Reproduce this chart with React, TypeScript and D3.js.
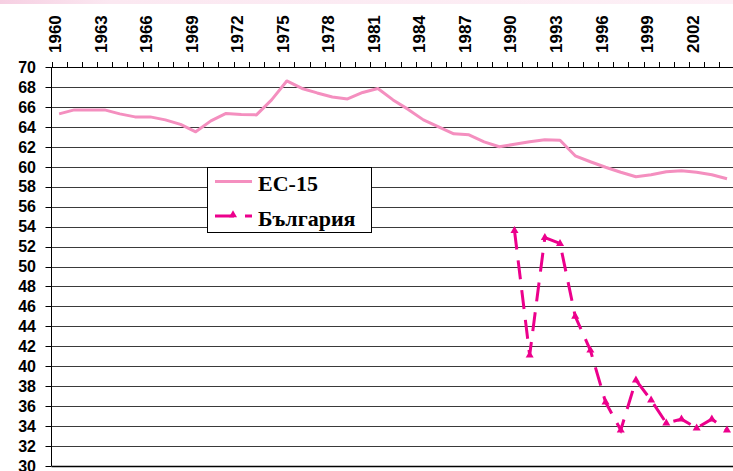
import React from 'react';
import * as d3 from 'd3';

// years shown on the category axis (top)
const years = d3.range(1960, 2006).map(String);
const yearLabels = ['1960', '1963', '1966', '1969', '1972', '1975', '1978', '1981', '1984', '1987', '1990', '1993', '1996', '1999', '2002'];
const yTicks = d3.range(30, 71, 2);

const ecYears = d3.range(1960, 2005).map(String);
const ecValues = [
    65.3, 65.7, 65.7, 65.7, 65.3, 65.0, 65.0, 64.7, 64.25, 63.5,
    64.6, 65.35, 65.25, 65.2, 66.7, 68.6, 67.85, 67.4, 67.0, 66.8,
    67.45, 67.85, 66.7, 65.75, 64.7, 64.0, 63.3, 63.2, 62.5, 62.0,
    62.25, 62.5, 62.7, 62.65, 61.1, 60.5, 59.95, 59.45, 59.0, 59.2,
    59.5, 59.6, 59.45, 59.2, 58.8
];

const bgYears = d3.range(1990, 2005).map(String);
const bgValues = [53.6, 41.1, 52.9, 52.3, 45.0, 41.6, 36.4, 33.6, 38.6, 36.6, 34.3, 34.7, 33.8, 34.7, 33.6];

const EC_COLOR = '#f48fbf';
const BG_COLOR = '#ec008c';

export default function App() {
    const width = 733, height = 471;
    const left = 51.5, top = 67, bottom = 466;
    const band = 15.18;

    const x = d3.scaleBand()
        .domain(years)
        .range([left, left + band * years.length])
        .padding(0);
    const cx = (yr: string) => (x(yr) as number) + x.bandwidth() / 2;

    const y = d3.scaleLinear().domain([30, 70]).range([bottom, top]);

    const ecData = ecYears.map((yr, i) => ({ yr, v: ecValues[i] }));
    const bgData = bgYears.map((yr, i) => ({ yr, v: bgValues[i] }));

    const line = d3.line<{ yr: string; v: number }>()
        .x(d => cx(d.yr))
        .y(d => y(d.v));

    const tri = d3.symbol().type(d3.symbolTriangle).size(28)();
    const right = left + band * years.length;

    return (
        <svg width={width} height={height} style={{ position: 'absolute', left: 0, top: 0, background: '#fff' }}
             fontFamily="'Liberation Sans', Arial, sans-serif">
            <defs>
                <linearGradient id="topband" x1="0" x2="1" y1="0" y2="0">
                    <stop offset="0" stopColor="#f6cfe2" />
                    <stop offset="0.15" stopColor="#fbe8f1" />
                    <stop offset="1" stopColor="#fdf0f6" />
                </linearGradient>
            </defs>
            <rect x={0} y={0} width={width} height={4} fill="url(#topband)" />

            {/* horizontal grid */}
            {yTicks.map(t => (
                <line key={'g' + t} x1={left} x2={right} y1={Math.round(y(t)) + 0.5} y2={Math.round(y(t)) + 0.5}
                      stroke={t === 30 || t === 70 ? '#000' : '#3a3a3a'} strokeWidth={t === 30 ? 1.5 : 1} />
            ))}
            {/* y axis */}
            <line x1={left} x2={left} y1={top} y2={bottom} stroke="#000" />
            {yTicks.map(t => (
                <g key={'y' + t}>
                    <line x1={left - 6} x2={left} y1={Math.round(y(t)) + 0.5} y2={Math.round(y(t)) + 0.5} stroke="#000" />
                    <text x={36} y={y(t)} dy="0.36em" textAnchor="end" fontSize={16} fontWeight="bold">{t}</text>
                </g>
            ))}
            {/* x axis on top */}
            {years.concat(['2006']).map((yr, i) => {
                const xx = Math.round(left + band * i) + 0.5;
                return <line key={'xt' + yr} x1={xx} x2={xx} y1={top - 5} y2={top} stroke="#000" />;
            })}
            {yearLabels.map(yr => (
                <text key={'xl' + yr} transform={`translate(${cx(yr) + 2},53) rotate(-90)`}
                      fontSize={17} fontWeight="bold">{yr}</text>
            ))}

            {/* EC-15 */}
            <path d={line(ecData) || ''} fill="none" stroke={EC_COLOR} strokeWidth={3} strokeLinejoin="round" />

            {/* Bulgaria */}
            <path d={line(bgData) || ''} fill="none" stroke={BG_COLOR} strokeWidth={3} strokeDasharray="19 11" />
            {bgData.map(d => (
                <path key={'m' + d.yr} d={tri || ''} transform={`translate(${cx(d.yr)},${y(d.v)})`} fill={BG_COLOR} />
            ))}

            {/* legend */}
            <rect x={207.5} y={167.5} width={164} height={65} fill="#fff" stroke="#000" />
            <line x1={215} x2={252} y1={181.5} y2={181.5} stroke={EC_COLOR} strokeWidth={3} />
            <text x={258} y={191} fontFamily="'Liberation Serif', 'Times New Roman', serif" fontWeight="bold" fontSize={22}>EC-15</text>
            <line x1={215} x2={252} y1={216} y2={216} stroke={BG_COLOR} strokeWidth={3} strokeDasharray="19 11" />
            <path d={tri || ''} transform="translate(233,215)" fill={BG_COLOR} />
            <text x={258} y={226} fontFamily="'Liberation Serif', 'Times New Roman', serif" fontWeight="bold" fontSize={22}>България</text>
        </svg>
    );
}
